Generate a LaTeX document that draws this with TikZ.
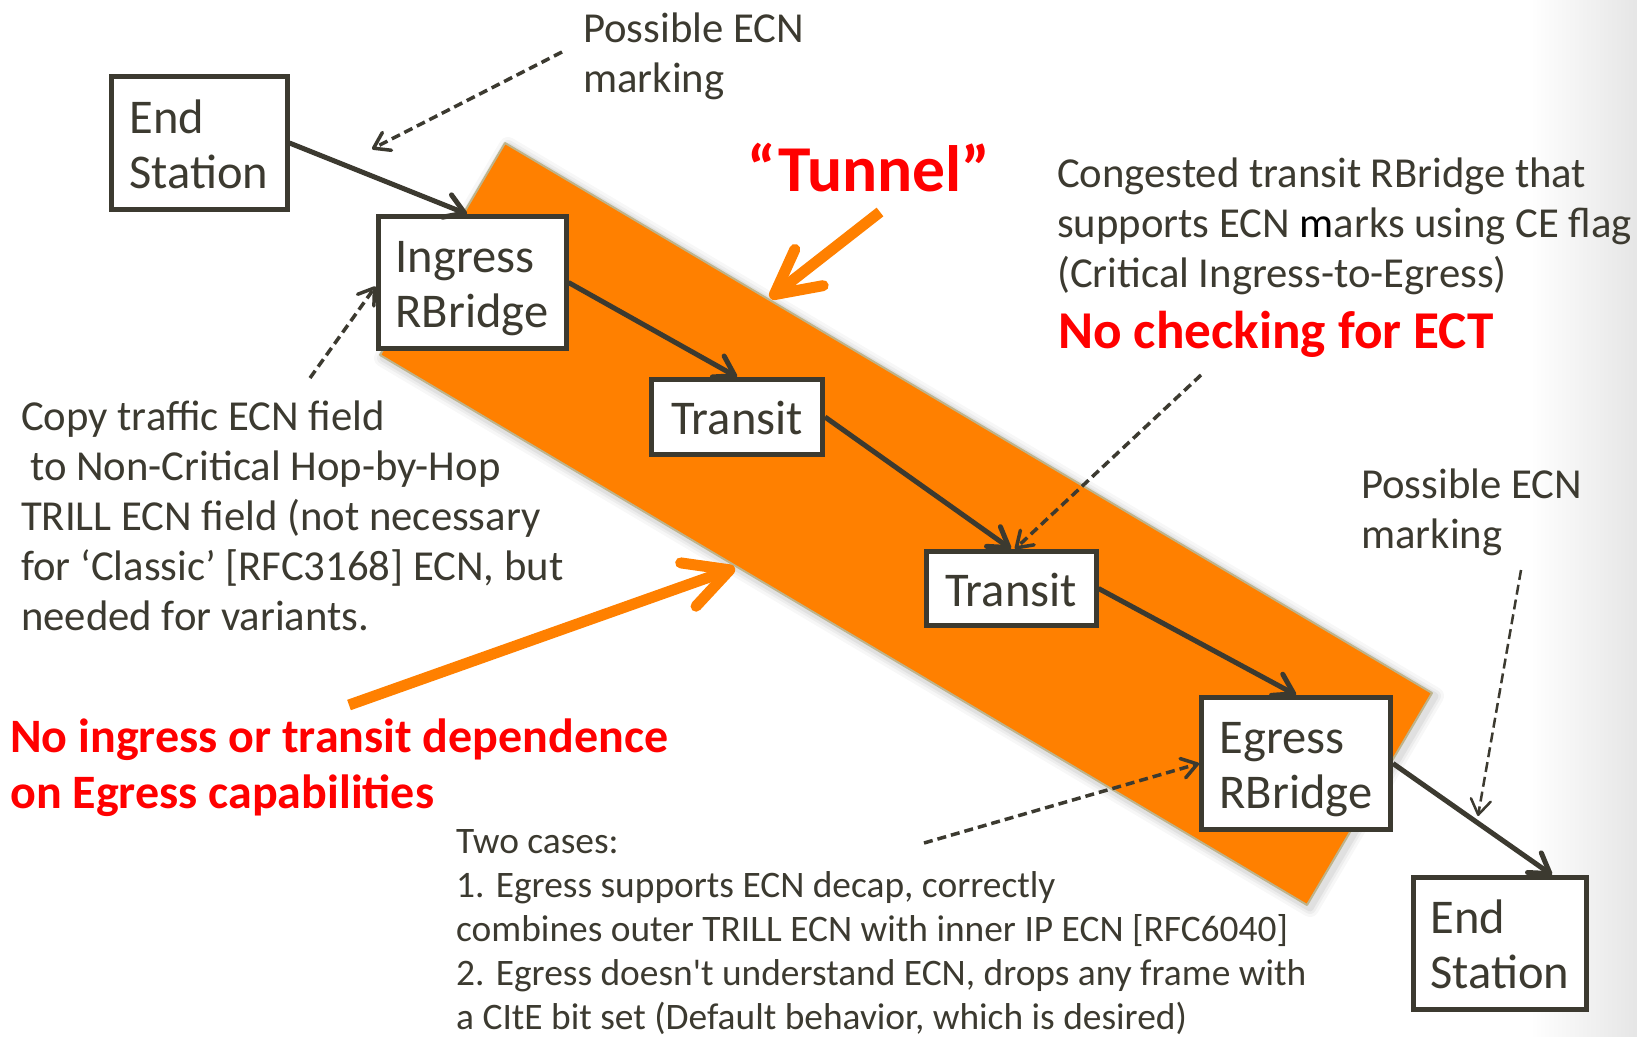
\documentclass[tikz,border=0pt]{standalone}
\usepackage{fontspec}
\setmainfont{Carlito}
\usetikzlibrary{arrows.meta,calc}
\definecolor{darkc}{RGB}{60,58,48}
\definecolor{orng}{RGB}{255,128,0}
\definecolor{tanc}{RGB}{190,180,140}
\definecolor{redt}{RGB}{255,0,0}
\newcommand{\boxtop}{\rule{0pt}{47pt}}
\newcommand{\boxbot}{\rule[-12pt]{0pt}{0pt}}
\begin{document}
\begin{tikzpicture}[x=1pt,y=-1pt,
  box/.style={draw=darkc, line width=5pt, fill=white, inner sep=0pt, align=left, text=darkc, font=\fontsize{48.5}{55}\selectfont},
  solidarr/.style={draw=darkc, line width=5pt, -{Straight Barb[length=19pt,width=24pt,round]}},
  dasharr/.style={draw=darkc, line width=3.5pt, dash pattern=on 9pt off 5pt, -{Straight Barb[length=15pt,width=20pt,round]}},
  orarr/.style={draw=orng, line width=11pt, -{Straight Barb[length=44pt,width=46pt,round]}},
  txt/.style={anchor=base west, inner sep=0pt, text=darkc, align=left, font=\fontsize{42.7}{50}\selectfont},
  redtxt/.style={anchor=base west, inner sep=0pt, text=redt, align=left},
]
\useasboundingbox (0,0) rectangle (1637,1036);
\fill[white] (0,0) rectangle (1637,1036);
\fill[left color=white, right color=black!10] (1530,0) rectangle (1637,1036);

% tunnel band with soft shadow
\foreach \w/\o in {18/0.03,12/0.04,7/0.05} {
  \draw[line width=\w pt, black, opacity=\o, line join=round]
    (508,146) -- (1435,696) -- (1310,908) -- (383,358) -- cycle;
}
\filldraw[fill=orng, draw=tanc, line width=2pt, line join=round]
  (505,143) -- (1432,693) -- (1307,905) -- (380,355) -- cycle;

% orange arrows
\coordinate (o1s) at (880,212);
\coordinate (o1e) at (770,298);
\coordinate (o2s) at (349,705);
\coordinate (o2e) at (735,568);
\draw[orarr] (o1s) -- (o1e);
\draw[orarr] (o2s) -- (o2e);

% boxes
\node[box, minimum width=176pt, minimum height=133pt] (es1) at (199,143) {\boxtop End\\Station\boxbot};
\node[box, minimum width=188pt, minimum height=132pt] (ing) at (472,282.5) {\boxtop Ingress\\RBridge\boxbot};
\node[box, minimum width=171pt, minimum height=75pt] (t1) at (737,417) {\boxtop Transit\boxbot};
\node[box, minimum width=170pt, minimum height=74pt] (t2) at (1011,588.5) {\boxtop Transit\boxbot};
\node[box, minimum width=189pt, minimum height=132pt] (eg) at (1296,763.5) {\boxtop Egress\\RBridge\boxbot};
\node[box, minimum width=173pt, minimum height=132pt] (es2) at (1500,943.5) {\boxtop End\\Station\boxbot};

% solid connectors
\draw[solidarr] (es1.east) -- ($(ing.north)+(-5,0)$);
\draw[solidarr] (ing.east) -- (t1.north);
\draw[solidarr] (t1.east) -- (t2.north);
\draw[solidarr] (t2.east) -- (eg.north);
\draw[solidarr] (eg.east) -- ($(es2.north)+(52,0)$);

% texts (anchored at the baseline of their last line)
\node[txt] (pecn1) at (583,92) {Possible ECN\\marking};
\node[redtxt, font=\fontsize{65.5}{74}\bfseries\selectfont] (tun) at (747,191) {“Tunnel”};
\node[txt] (cong) at (1057,287) {Congested transit RBridge that\\supports ECN {\color{black}m}arks using CE flag\\(Critical Ingress-to-Egress)};
\node[redtxt, font=\fontsize{53.2}{64}\bfseries\selectfont] (noc) at (1058,348) {No checking for ECT};
\node[txt] (copy) at (21,630) {Copy traffic ECN field\\\hspace*{9pt}to Non-Critical Hop-by-Hop\\TRILL ECN field (not necessary\\for ‘Classic’ [RFC3168] ECN, but\\needed for variants.};
\node[redtxt, font=\fontsize{48}{56}\bfseries\selectfont] (noi) at (10,808) {No ingress or transit dependence\\on Egress capabilities};
\node[txt, font=\fontsize{37.4}{44}\selectfont] (two) at (456,1029) {Two cases:\\1. Egress supports ECN decap, correctly\\combines outer TRILL ECN with inner IP ECN [RFC6040]\\2. Egress doesn\textquotesingle t understand ECN, drops any frame with\\a CItE bit set (Default behavior, which is desired)};
\node[txt] (pecn2) at (1361,548) {Possible ECN\\marking};

% dashed connectors
\coordinate (d1s) at (562,52);
\coordinate (d1e) at (372,149);
\draw[dasharr] (d1s) -- (d1e);
\coordinate (d2s) at (310,378);
\draw[dasharr] (d2s) -- ($(ing.west)+(0,4)$);
\coordinate (d3s) at (1201,375);
\draw[dasharr] (d3s) -- ($(t2.north)+(4,0)$);
\coordinate (d4s) at (1521,570);
\coordinate (d4e) at (1478,816);
\draw[dasharr, line width=2.5pt, dash pattern=on 10pt off 5pt] (d4s) -- (d4e);
\coordinate (d5s) at (924,843);
\draw[dasharr] (d5s) -- (eg.west);
\end{tikzpicture}
\end{document}
